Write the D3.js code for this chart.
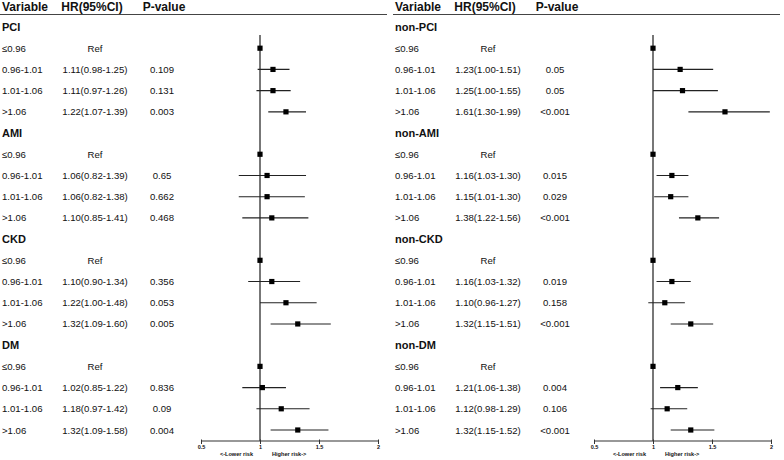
<!DOCTYPE html>
<html><head><meta charset="utf-8">
<script src="https://cdn.jsdelivr.net/npm/d3@7"></script>
<style>html,body{margin:0;padding:0;background:#fff}svg{display:block}</style>
</head><body>
<script>
// ---- data ----
const levels = ["≤0.96", "0.96-1.01", "1.01-1.06", ">1.06"];
const headers = ["Variable", "HR(95%CI)", "P-value"];
const leftGroups = ["PCI", "AMI", "CKD", "DM"];
const rightGroups = ["non-PCI", "non-AMI", "non-CKD", "non-DM"];
const leftHR = [[1, 1.11, 1.11, 1.22], [1, 1.06, 1.06, 1.10], [1, 1.10, 1.22, 1.32], [1, 1.02, 1.18, 1.32]];
const leftLo = [[null, 0.98, 0.97, 1.07], [null, 0.82, 0.82, 0.85], [null, 0.90, 1.00, 1.09], [null, 0.85, 0.97, 1.09]];
const leftHi = [[null, 1.25, 1.26, 1.39], [null, 1.39, 1.38, 1.41], [null, 1.34, 1.48, 1.60], [null, 1.22, 1.42, 1.58]];
const leftP = [["", "0.109", "0.131", "0.003"], ["", "0.65", "0.662", "0.468"], ["", "0.356", "0.053", "0.005"], ["", "0.836", "0.09", "0.004"]];
const rightHR = [[1, 1.23, 1.25, 1.61], [1, 1.16, 1.15, 1.38], [1, 1.16, 1.10, 1.32], [1, 1.21, 1.12, 1.32]];
const rightLo = [[null, 1.00, 1.00, 1.30], [null, 1.03, 1.01, 1.22], [null, 1.03, 0.96, 1.15], [null, 1.06, 0.98, 1.15]];
const rightHi = [[null, 1.51, 1.55, 1.99], [null, 1.30, 1.30, 1.56], [null, 1.32, 1.27, 1.51], [null, 1.38, 1.29, 1.52]];
const rightP = [["", "0.05", "0.05", "<0.001"], ["", "0.015", "0.029", "<0.001"], ["", "0.019", "0.158", "<0.001"], ["", "0.004", "0.106", "<0.001"]];
const tickValues = [0.5, 1, 1.5, 2];
const tickLabels = ["0.5", "1", "1.5", "2"];
const lowerLabel = "<-Lower risk";
const higherLabel = "Higher risk->";

// ---- drawing ----
const W = 784, H = 460;
const svg = d3.select("body").append("svg").attr("width", W).attr("height", H)
  .style("font-family", "'Liberation Sans', Arial, sans-serif");

const rowY = d3.scaleLinear().domain([0, 19]).range([27, 430]);
const axisY = 441;

function hrText(hr, lo, hi) {
  if (lo == null) return "Ref";
  return hr.toFixed(2) + "(" + lo.toFixed(2) + "-" + hi.toFixed(2) + ")";
}

function panel(x0, groups, HR, LO, HI, P) {
  const g = svg.append("g").attr("transform", `translate(${x0},0)`);
  const x = d3.scaleLinear().domain([0.5, 2]).range([201 - 0, 378]);
  const ink = "#111";
  // headers
  const hx = [2, 92, 164], ha = ["start", "middle", "middle"];
  headers.forEach((h, i) => {
    g.append("text").attr("x", hx[i]).attr("y", 7).attr("dominant-baseline", "central")
      .attr("text-anchor", ha[i]).attr("font-size", 12).attr("font-weight", "bold").attr("fill", ink).text(h);
  });
  g.append("line").attr("x1", 0).attr("x2", 387).attr("y1", 14.5).attr("y2", 14.5)
    .attr("stroke", "#444").attr("stroke-width", 1);

  // reference line
  g.append("line").attr("x1", x(1)).attr("x2", x(1)).attr("y1", 35).attr("y2", axisY)
    .attr("stroke", "#555").attr("stroke-width", 1.6);

  groups.forEach((name, gi) => {
    const base = gi * 5;
    g.append("text").attr("x", 2).attr("y", rowY(base)).attr("dominant-baseline", "central")
      .attr("font-size", 11).attr("font-weight", "bold").attr("fill", ink).text(name);
    levels.forEach((lv, li) => {
      const y = rowY(base + 1 + li);
      const hr = HR[gi][li], lo = LO[gi][li], hi = HI[gi][li];
      g.append("text").attr("x", 2).attr("y", y).attr("dominant-baseline", "central")
        .attr("font-size", 9.6).attr("fill", ink).text(lv);
      g.append("text").attr("x", 95).attr("y", y).attr("dominant-baseline", "central")
        .attr("text-anchor", "middle").attr("font-size", 9.6).attr("fill", ink).text(hrText(hr, lo, hi));
      g.append("text").attr("x", 162).attr("y", y).attr("dominant-baseline", "central")
        .attr("text-anchor", "middle").attr("font-size", 9.6).attr("fill", ink).text(P[gi][li]);
      if (lo != null) {
        g.append("line").attr("x1", x(lo)).attr("x2", x(hi)).attr("y1", y).attr("y2", y)
          .attr("stroke", "#222").attr("stroke-width", 1.1);
      }
      g.append("rect").attr("x", x(hr) - 2.6).attr("y", y - 2.6).attr("width", 5.2).attr("height", 5.2)
        .attr("fill", "#000");
    });
  });

  // axis
  const ax = g.append("g").attr("transform", `translate(0,${axisY})`)
    .call(d3.axisBottom(x).tickValues(tickValues).tickSize(3)
      .tickFormat((d, i) => tickLabels[i]));
  ax.select(".domain").attr("stroke", "#333").attr("stroke-width", 1.2).attr("d", `M${x(0.5)},0H${x(2)}`);
  ax.selectAll(".tick line").attr("stroke", "#333").attr("y1", -1.5).attr("y2", 3);
  ax.selectAll(".tick text").attr("font-size", 5.5).attr("font-weight", "bold").attr("dy", 0)
    .attr("y", 8).attr("fill", ink).attr("font-family", "'Liberation Sans', Arial, sans-serif");

  g.append("text").attr("x", x(1) - 7).attr("y", 456).attr("text-anchor", "end")
    .attr("font-size", 5.6).attr("font-weight", "bold").attr("fill", ink).text(lowerLabel);
  g.append("text").attr("x", x(1) + 12).attr("y", 456).attr("text-anchor", "start")
    .attr("font-size", 5.6).attr("font-weight", "bold").attr("fill", ink).text(higherLabel);
}

panel(0, leftGroups, leftHR, leftLo, leftHi, leftP);
panel(393, rightGroups, rightHR, rightLo, rightHi, rightP);
</script>
</body></html>
